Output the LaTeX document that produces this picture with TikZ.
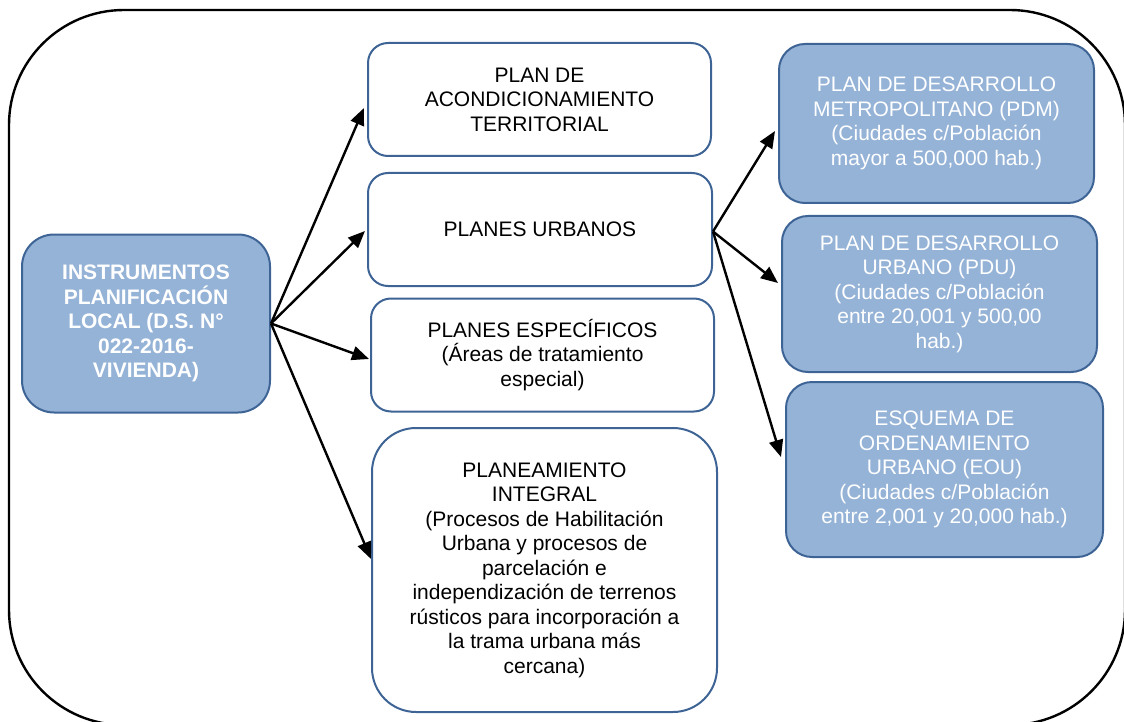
\documentclass[tikz,border=0pt]{standalone}
\usepackage{fontspec}
\setmainfont{Liberation Sans}
\usetikzlibrary{arrows.meta,calc}
\definecolor{boxblue}{RGB}{149,179,215}
\definecolor{boxedge}{RGB}{62,100,150}
\tikzset{
  base/.style={draw=boxedge, line width=2pt, align=center, inner sep=0pt,
    font=\fontsize{21}{24.5}\selectfont},
  whitebox/.style={base, fill=white, text=black, rounded corners=20pt},
  bluebox/.style={base, fill=boxblue, text=white, rounded corners=26pt},
  conn/.style={line width=2.4pt, -{Triangle[length=17pt,width=14pt]}},
  frame/.style={draw=black, line width=2.4pt, rounded corners=115pt}
}
\begin{document}
\begin{tikzpicture}[x=1pt,y=-1pt]
\useasboundingbox (0,0) rectangle (1124,722);
\begin{scope}
\clip (0,0) rectangle (1124,722);
\draw[frame] (9,10) rectangle (1125,725);
\end{scope}

\node[bluebox, rounded corners=32pt, minimum width=248pt, minimum height=178pt,
  font=\fontsize{21}{24.5}\selectfont\bfseries] (L) at (146,323.5)
  {INSTRUMENTOS\\PLANIFICACIÓN\\LOCAL (D.S. N°\\022-2016-\\VIVIENDA)};

\node[whitebox, minimum width=343pt, minimum height=113pt] (PAT) at (539.5,99.5)
  {PLAN DE\\ACONDICIONAMIENTO\\TERRITORIAL};
\node[whitebox, minimum width=344pt, minimum height=113pt] (PU) at (540,229.5)
  {PLANES URBANOS};
\node[whitebox, minimum width=343pt, minimum height=113pt] (PE) at (542.5,355)
  {PLANES ESPECÍFICOS\\(Áreas de tratamiento\\especial)};
\node[whitebox, rounded corners=44pt, minimum width=345pt, minimum height=284pt] (PI) at (544.5,570)
  {PLANEAMIENTO\\INTEGRAL\\(Procesos de Habilitación\\Urbana y procesos de\\parcelación e\\independización de terrenos\\rústicos para incorporación a\\la trama urbana más\\cercana)};

\node[bluebox, minimum width=315pt, minimum height=159pt] (PDM) at (936.5,123.5)
  {PLAN DE DESARROLLO\\METROPOLITANO (PDM)\\(Ciudades c/Población\\mayor a 500,000 hab.)};
\node[bluebox, minimum width=315pt, minimum height=156pt] (PDU) at (939.5,294)
  {PLAN DE DESARROLLO\\URBANO (PDU)\\(Ciudades c/Población\\entre 20,001 y 500,00\\hab.)};
\node[bluebox, minimum width=317pt, minimum height=175pt] (EOU) at (944.5,469.5)
  {ESQUEMA DE\\ORDENAMIENTO\\URBANO (EOU)\\(Ciudades c/Población\\entre 2,001 y 20,000 hab.)};

\draw[conn] (L.east) -- ($(PAT.west)+(-3,8.5)$);
\draw[conn] (L.east) -- ($(PU.west)+(-2,1.5)$);
\draw[conn] (L.east) -- ($(PE.west)+(-1,4)$);
\draw[conn] (L.east) -- ($(PI.west)+(0,-11)$);

\coordinate (PUo) at ($(PU.east)+(0,2)$);
\draw[conn] (PUo) -- ($(PDM.west)+(-3,7.5)$);
\draw[conn] (PUo) -- ($(PDU.west)+(-3,-11)$);
\draw[conn] (PUo) -- ($(EOU.west)+(-4,-12.5)$);
\end{tikzpicture}
\end{document}
